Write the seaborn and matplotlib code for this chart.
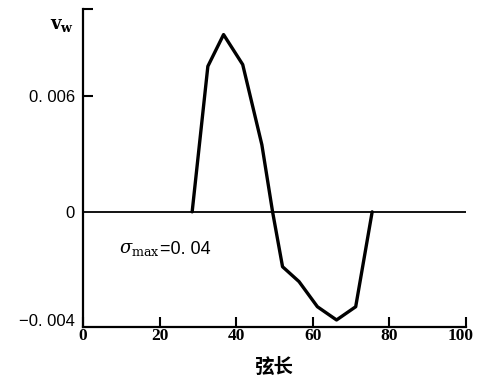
import numpy as np
import matplotlib
matplotlib.use("Agg")
import matplotlib.pyplot as plt
import matplotlib.transforms as mtransforms
import seaborn as sns

# chord position (%) and wall velocity
chord = [28.5, 32.6, 36.7, 41.7, 46.7, 49.5, 52.1, 56.4, 61.2, 66.2, 71.2, 75.5]
vw = [0.0, 0.00757, 0.00922, 0.00766, 0.00349, 0.0, -0.00203, -0.00258,
      -0.00351, -0.0040, -0.00351, 0.0]

xticks = [0, 20, 40, 60, 80, 100]
yticks = [-0.004, 0.0, 0.006]
ytick_labels = ["\u22120. 004", "0", "0. 006"]

sns.set_style("ticks")
plt.rcParams["font.family"] = ["Liberation Sans", "DejaVu Sans"]
plt.rcParams["mathtext.fontset"] = "dejavuserif"
plt.rcParams["text.color"] = "black"
plt.rcParams["xtick.color"] = "black"
plt.rcParams["ytick.color"] = "black"
plt.rcParams["axes.edgecolor"] = "black"

fig = plt.figure(figsize=(4.78, 3.79), dpi=100)
ax = fig.add_axes([83 / 478, 1 - 327 / 379, 383 / 478, (327 - 9) / 379])

# the negative branch of the ordinate is drawn at a larger scale
k = 1.406
def fwd(y):
    y = np.asarray(y, dtype=float)
    return np.where(y < 0, y * k, y)
def inv(y):
    y = np.asarray(y, dtype=float)
    return np.where(y < 0, y / k, y)
ax.set_yscale("function", functions=(fwd, inv))

ax.axhline(0, color="black", lw=1.3, zorder=1)
sns.lineplot(x=chord, y=vw, sort=False, color="black", lw=2.4, ax=ax,
             estimator=None, zorder=3)

ax.set_xlim(0, 100)
ax.set_ylim(-0.00426, 0.01055)

ax.set_xticks(xticks)
ax.set_xticklabels([str(t) for t in xticks], family=["Liberation Serif"],
                   fontweight="bold", fontsize=12.5)
ax.set_yticks(yticks)
ax.set_yticklabels(ytick_labels, fontsize=12)
ax.set_yticks([0.01055], minor=True)
ax.tick_params(axis="x", direction="in", length=7, width=1.5, pad=1,
               labelcolor="black")
ax.tick_params(axis="y", which="major", direction="in", length=7, width=1.5,
               pad=6, labelcolor="black")
ax.tick_params(axis="y", which="minor", direction="in", length=7, width=1.5)
ax.yaxis.get_major_ticks()[0].tick1line.set_visible(False)
ax.yaxis.get_major_ticks()[1].tick1line.set_visible(False)

# keep the last abscissa label inside the figure
last = ax.get_xticklabels()[-1]
last.set_transform(last.get_transform() +
                   mtransforms.ScaledTranslation(-5 / 100, 0, fig.dpi_scale_trans))

sns.despine(ax=ax)
for s in ("left", "bottom"):
    ax.spines[s].set_linewidth(1.6)

ax.set_xlabel("弦长", family=["Noto Sans CJK SC"], fontsize=14,
              fontweight="bold", labelpad=10, color="black")
ax.set_ylabel("")

fig.text(62 / 478, 1 - 25 / 379, r"$\mathbf{v}_{\mathbf{w}}$", fontsize=13,
         ha="center", va="center", color="black")
ax.text(9.5, -0.00138, r"$\sigma_{\mathrm{max}}$", fontsize=13, va="center",
        color="black")
ax.text(20.0, -0.00138, "=0. 04", fontsize=13, va="center", color="black")

fig.savefig("out.png", dpi=100, facecolor="white")
